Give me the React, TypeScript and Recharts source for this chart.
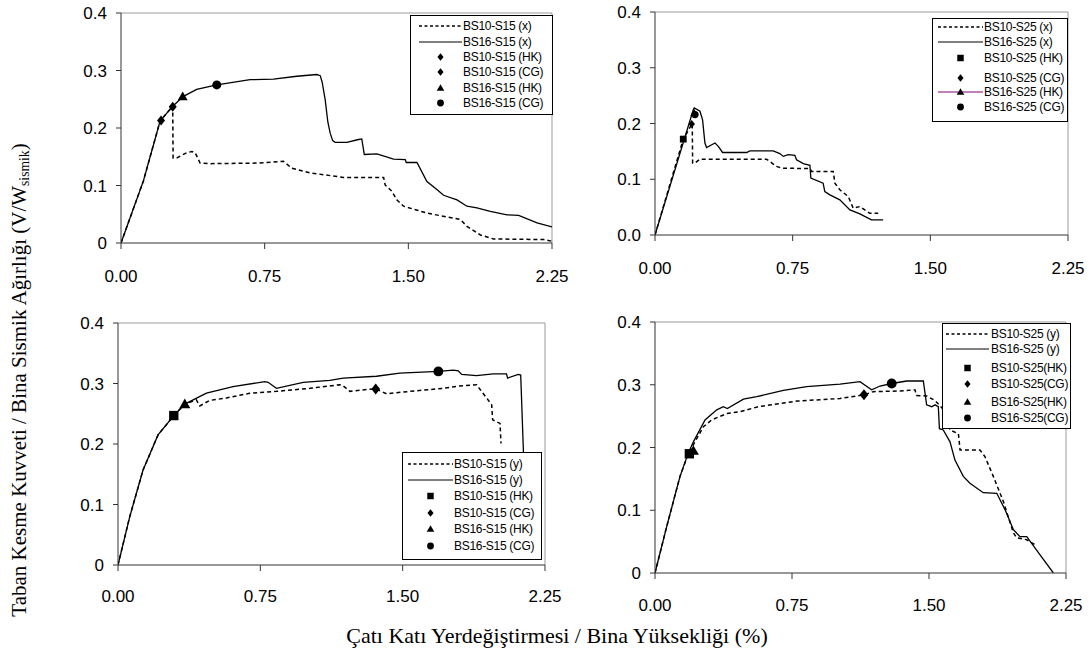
import React from 'react';
import { ComposedChart, Line, Scatter, XAxis, YAxis, ReferenceLine, Legend } from 'recharts';

type Pt = { x: number; y: number };
const P = (a: number[][]): Pt[] => a.map(([x, y]) => ({ x, y }));

const xTicks = [0, 0.75, 1.5, 2.25];
const yTicks = [0, 0.1, 0.2, 0.3, 0.4];

// ---- Panel 1: S15, x direction ----
const bs10S15x = P([[0,0],[0.117,0.108],[0.204,0.212],[0.27,0.238],[0.272,0.148],[0.291,0.148],[0.343,0.157],[0.369,0.159],[0.387,0.157],[0.413,0.139],[0.465,0.138],[0.709,0.139],[0.848,0.142],[0.892,0.13],[0.987,0.122],[1.162,0.114],[1.371,0.114],[1.379,0.101],[1.414,0.09],[1.44,0.075],[1.475,0.064],[1.597,0.052],[1.771,0.041],[1.806,0.029],[1.876,0.014],[1.945,0.007],[2.207,0.006],[2.25,0.003]]);
const bs16S15x = P([[0,0],[0.117,0.108],[0.204,0.212],[0.27,0.238],[0.326,0.255],[0.395,0.267],[0.5,0.275],[0.674,0.284],[0.796,0.285],[0.918,0.29],[1.022,0.293],[1.04,0.291],[1.05,0.28],[1.066,0.249],[1.08,0.21],[1.092,0.191],[1.105,0.178],[1.118,0.175],[1.179,0.175],[1.24,0.18],[1.257,0.181],[1.27,0.154],[1.336,0.155],[1.423,0.146],[1.484,0.145],[1.489,0.14],[1.545,0.14],[1.597,0.107],[1.649,0.093],[1.684,0.083],[1.754,0.075],[1.806,0.064],[1.858,0.061],[1.928,0.055],[2.015,0.049],[2.076,0.048],[2.172,0.035],[2.25,0.028]]);
const bs10S15xHK = P([[0.209,0.213]]);
const bs10S15xCG = P([[0.27,0.237]]);
const bs16S15xHK = P([[0.322,0.255]]);
const bs16S15xCG = P([[0.5,0.275]]);
const legend1 = ['BS10-S15 (x)', 'BS16-S15 (x)', 'BS10-S15 (HK)', 'BS10-S15 (CG)', 'BS16-S15 (HK)', 'BS16-S15 (CG)'];

// ---- Panel 2: S25, x direction ----
const bs10S25x = P([[0,0],[0.154,0.172],[0.203,0.2],[0.205,0.129],[0.218,0.129],[0.245,0.136],[0.608,0.136],[0.662,0.123],[0.69,0.12],[0.844,0.119],[0.853,0.114],[0.971,0.114],[0.98,0.093],[1.007,0.081],[1.053,0.069],[1.08,0.048],[1.116,0.051],[1.17,0.039],[1.216,0.039]]);
const bs16S25x = P([[0,0],[0.209,0.225],[0.214,0.228],[0.245,0.222],[0.259,0.207],[0.272,0.165],[0.281,0.157],[0.327,0.165],[0.345,0.159],[0.368,0.148],[0.499,0.148],[0.517,0.151],[0.644,0.151],[0.68,0.146],[0.699,0.141],[0.726,0.144],[0.762,0.143],[0.771,0.135],[0.808,0.128],[0.844,0.125],[0.849,0.102],[0.916,0.093],[0.925,0.078],[0.953,0.072],[1.007,0.063],[1.062,0.045],[1.116,0.038],[1.179,0.027],[1.243,0.027]]);
const bs10S25xHK = P([[0.154,0.172]]);
const bs10S25xCG = P([[0.2,0.199]]);
const bs16S25xHK = P([[0.214,0.219]]);
const bs16S25xCG = P([[0.218,0.216]]);
const legend2 = ['BS10-S25 (x)', 'BS16-S25 (x)', 'BS10-S25 (HK)', 'BS10-S25 (CG)', 'BS16-S25 (HK)', 'BS16-S25 (CG)'];

// ---- Panel 3: S15, y direction ----
const bs10S15y = P([[0,0],[0.062,0.08],[0.132,0.157],[0.211,0.215],[0.294,0.247],[0.352,0.266],[0.413,0.273],[0.431,0.263],[0.483,0.272],[0.571,0.276],[0.694,0.284],[0.835,0.287],[1.011,0.292],[1.169,0.298],[1.187,0.296],[1.222,0.287],[1.31,0.29],[1.358,0.291],[1.415,0.283],[1.538,0.287],[1.714,0.292],[1.802,0.296],[1.889,0.298],[1.969,0.265],[1.974,0.24],[2.013,0.234],[2.018,0.201]]);
const bs16S15y = P([[0,0],[0.062,0.08],[0.132,0.157],[0.211,0.215],[0.294,0.247],[0.352,0.266],[0.466,0.284],[0.606,0.295],[0.773,0.303],[0.791,0.302],[0.835,0.292],[0.976,0.302],[1.116,0.305],[1.187,0.309],[1.362,0.312],[1.485,0.317],[1.688,0.32],[1.767,0.322],[1.793,0.321],[1.811,0.315],[1.889,0.313],[1.977,0.316],[2.047,0.316],[2.053,0.309],[2.109,0.315],[2.122,0.314],[2.136,0.19],[2.145,0.05]]);
const bs10S15yHK = P([[0.294,0.247]]);
const bs10S15yCG = P([[1.358,0.291]]);
const bs16S15yHK = P([[0.352,0.266]]);
const bs16S15yCG = P([[1.688,0.32]]);
const legend3 = ['BS10-S15 (y)', 'BS16-S15 (y)', 'BS10-S15 (HK)', 'BS10-S15 (CG)', 'BS16-S15 (HK)', 'BS16-S15 (CG)'];

// ---- Panel 4: S25, y direction ----
const bs10S25y = P([[0,0],[0.064,0.074],[0.137,0.154],[0.182,0.19],[0.265,0.233],[0.31,0.244],[0.392,0.254],[0.465,0.257],[0.566,0.265],[0.776,0.274],[1.013,0.278],[1.144,0.284],[1.195,0.289],[1.341,0.29],[1.423,0.292],[1.432,0.283],[1.487,0.282],[1.533,0.275],[1.58,0.26],[1.615,0.228],[1.661,0.222],[1.67,0.196],[1.779,0.196],[1.807,0.185],[1.852,0.154],[1.907,0.114],[1.962,0.064],[1.98,0.056],[2.035,0.053],[2.081,0.045]]);
const bs16S25y = P([[0,0],[0.064,0.074],[0.137,0.154],[0.182,0.191],[0.21,0.209],[0.274,0.244],[0.338,0.26],[0.374,0.265],[0.396,0.262],[0.484,0.277],[0.557,0.281],[0.703,0.291],[0.83,0.297],[1.013,0.301],[1.122,0.305],[1.186,0.292],[1.232,0.298],[1.296,0.302],[1.378,0.306],[1.469,0.306],[1.487,0.268],[1.515,0.265],[1.533,0.268],[1.551,0.265],[1.557,0.23],[1.578,0.228],[1.615,0.209],[1.642,0.18],[1.688,0.154],[1.724,0.143],[1.797,0.128],[1.871,0.127],[1.916,0.101],[1.962,0.069],[1.998,0.058],[2.035,0.058],[2.108,0.029],[2.181,0]]);
const bs10S25yHK = P([[0.188,0.19]]);
const bs10S25yCG = P([[1.144,0.284]]);
const bs16S25yHK = P([[0.21,0.195]]);
const bs16S25yCG = P([[1.296,0.302]]);
const legend4 = ['BS10-S25 (y)', 'BS16-S25 (y)', 'BS10-S25(HK)', 'BS10-S25(CG)', 'BS16-S25(HK)', 'BS16-S25(CG)'];

const yTitle = 'Taban Kesme Kuvveti / Bina Sismik Ağırlığı (V/W';
const yTitleSub = 'sismik';
const xTitle = 'Çatı Katı Yerdeğiştirmesi / Bina Yüksekliği (%)';

const SANS = "'Liberation Sans', Arial, sans-serif";
const SERIF = "'Liberation Serif', 'Times New Roman', serif";

type MkType = 'diamond' | 'square' | 'triangle' | 'circle';

function Mk({ cx, cy, type, s }: { cx: number; cy: number; type: MkType; s: number }) {
  if (cx == null || cy == null) return null;
  switch (type) {
    case 'diamond':
      return <polygon points={`${cx},${cy - s} ${cx + s * 0.8},${cy} ${cx},${cy + s} ${cx - s * 0.8},${cy}`} fill="#000" />;
    case 'square':
      return <rect x={cx - s * 0.85} y={cy - s * 0.85} width={s * 1.7} height={s * 1.7} fill="#000" />;
    case 'triangle':
      return <polygon points={`${cx},${cy - s} ${cx + s},${cy + s * 0.75} ${cx - s},${cy + s * 0.75}`} fill="#000" />;
    default:
      return <circle cx={cx} cy={cy} r={s * 0.9} fill="#000" />;
  }
}

type Kind = 'dash' | 'solid' | MkType | 'purpleTriangle';

interface LegendSpec {
  labels: string[];
  kinds: Kind[];
  rows: number[];
  left: number;
  top: number;
  width: number;
  height: number;
  sx0: number;
  sx1: number;
  tx: number;
}

function LegendBox({ spec }: { spec: LegendSpec }) {
  const { labels, kinds, rows, width, height, sx0, sx1, tx } = spec;
  const mid = (sx0 + sx1) / 2;
  return (
    <div style={{ position: 'relative', width, height, border: '1px solid #000', background: '#fff', boxSizing: 'border-box', fontFamily: SANS, fontSize: 12, color: '#000' }}>
      {labels.map((lab, i) => {
        const k = kinds[i];
        return (
          <React.Fragment key={i}>
            <svg style={{ position: 'absolute', left: 0, top: rows[i] - 7, overflow: 'visible' }} width={tx} height={14}>
              {k === 'dash' && <line x1={sx0} x2={sx1} y1={7} y2={7} stroke="#000" strokeWidth={1.4} strokeDasharray="3 2.5" />}
              {k === 'solid' && <line x1={sx0} x2={sx1} y1={7} y2={7} stroke="#000" strokeWidth={1} />}
              {k === 'purpleTriangle' && <line x1={sx0} x2={sx1} y1={7} y2={7} stroke="#800080" strokeWidth={1} />}
              {(k === 'diamond' || k === 'square' || k === 'triangle' || k === 'circle') && <Mk cx={mid} cy={7} type={k} s={3.8} />}
              {k === 'purpleTriangle' && <Mk cx={mid} cy={7} type="triangle" s={3.8} />}
            </svg>
            <span style={{ position: 'absolute', left: tx, top: rows[i] - 8, lineHeight: '16px', whiteSpace: 'nowrap', letterSpacing: '-0.3px' }}>{lab}</span>
          </React.Fragment>
        );
      })}
    </div>
  );
}

interface MarkerSet { data: Pt[]; type: MkType }

interface PanelProps {
  left: number; top: number; right: number; bottom: number;
  dashed: Pt[]; solid: Pt[]; markers: MarkerSet[]; ms: number;
  legend: LegendSpec; zeroLabel: string; xTickMargin: number;
}

function Panel({ left, top, right, bottom, dashed, solid, markers, ms, legend, zeroLabel, xTickMargin }: PanelProps) {
  const yw = 70, mt = 10, mr = 24, xh = 45;
  const pw = right - left, ph = bottom - top;
  const ox = left - yw, oy = top - mt;
  return (
    <div style={{ position: 'absolute', left: ox, top: oy }}>
      <ComposedChart width={pw + yw + mr} height={ph + mt + xh} margin={{ top: mt, right: mr, left: 0, bottom: 0 }}>
        <XAxis type="number" dataKey="x" domain={[0, 2.25]} ticks={xTicks} allowDataOverflow interval={0}
          tickFormatter={(v: number) => v.toFixed(2)} height={xh} tickSize={6} tickMargin={xTickMargin}
          stroke="#333" tick={{ fill: '#000', fontSize: 17, fontFamily: SANS }} />
        <YAxis type="number" dataKey="y" domain={[0, 0.4]} ticks={yTicks} allowDataOverflow interval={0}
          tickFormatter={(v: number) => (v === 0 ? zeroLabel : v.toFixed(1))} width={yw} tickSize={5} tickMargin={9}
          stroke="#333" tick={{ fill: '#000', fontSize: 17, fontFamily: SANS }} />
        <ReferenceLine y={0.4} stroke="#9a9a9a" strokeWidth={1} />
        <ReferenceLine x={2.25} stroke="#9a9a9a" strokeWidth={1} />
        <Line data={solid} dataKey="y" type="linear" stroke="#000" strokeWidth={1.3} dot={false} activeDot={false} isAnimationActive={false} />
        <Line data={dashed} dataKey="y" type="linear" stroke="#000" strokeWidth={1.5} strokeDasharray="4 3" dot={false} activeDot={false} isAnimationActive={false} />
        {markers.map((m, i) => (
          <Scatter key={i} data={m.data} dataKey="y" isAnimationActive={false}
            shape={(p: any) => <Mk cx={p.cx} cy={p.cy} type={m.type} s={ms} />} />
        ))}
        <Legend layout="horizontal" verticalAlign="middle" align="center"
          wrapperStyle={{ left: legend.left - ox, top: legend.top - oy, width: legend.width, height: legend.height }}
          content={() => <LegendBox spec={legend} />} />
      </ComposedChart>
    </div>
  );
}

const kindsA: Kind[] = ['dash', 'solid', 'diamond', 'diamond', 'triangle', 'circle'];
const kindsB: Kind[] = ['dash', 'solid', 'square', 'diamond', 'purpleTriangle', 'circle'];
const kindsC: Kind[] = ['dash', 'solid', 'square', 'diamond', 'triangle', 'circle'];

export default function App() {
  return (
    <div style={{ position: 'absolute', left: 0, top: 0, width: 1089, height: 662, background: '#fff', overflow: 'hidden' }}>
      <Panel left={121} top={13} right={552} bottom={243} dashed={bs10S15x} solid={bs16S15x} ms={5} zeroLabel="0" xTickMargin={21}
        markers={[{ data: bs10S15xHK, type: 'diamond' }, { data: bs10S15xCG, type: 'diamond' }, { data: bs16S15xHK, type: 'triangle' }, { data: bs16S15xCG, type: 'circle' }]}
        legend={{ labels: legend1, kinds: kindsA, rows: [10, 26, 41, 56, 72, 87], left: 410, top: 15, width: 143, height: 100, sx0: 8, sx1: 51, tx: 52 }} />
      <Panel left={655} top={12} right={1068} bottom={235} dashed={bs10S25x} solid={bs16S25x} ms={4} zeroLabel="0.0" xTickMargin={21}
        markers={[{ data: bs10S25xHK, type: 'square' }, { data: bs10S25xCG, type: 'diamond' }, { data: bs16S25xHK, type: 'triangle' }, { data: bs16S25xCG, type: 'circle' }]}
        legend={{ labels: legend2, kinds: kindsB, rows: [8, 23, 39, 59, 73, 88], left: 932, top: 18, width: 136, height: 104, sx0: 5, sx1: 50, tx: 51 }} />
      <Panel left={118} top={323} right={545} bottom={565} dashed={bs10S15y} solid={bs16S15y} ms={5.5} zeroLabel="0" xTickMargin={19}
        markers={[{ data: bs10S15yHK, type: 'square' }, { data: bs10S15yCG, type: 'diamond' }, { data: bs16S15yHK, type: 'triangle' }, { data: bs16S15yCG, type: 'circle' }]}
        legend={{ labels: legend3, kinds: kindsC, rows: [11, 27, 43, 60, 76, 93], left: 402, top: 452, width: 140, height: 108, sx0: 5, sx1: 50, tx: 51 }} />
      <Panel left={655} top={322} right={1066} bottom={573} dashed={bs10S25y} solid={bs16S25y} ms={5.5} zeroLabel="0" xTickMargin={20}
        markers={[{ data: bs10S25yHK, type: 'square' }, { data: bs10S25yCG, type: 'diamond' }, { data: bs16S25yHK, type: 'triangle' }, { data: bs16S25yCG, type: 'circle' }]}
        legend={{ labels: legend4, kinds: kindsC, rows: [10, 25, 44, 60, 78, 94], left: 942, top: 323, width: 129, height: 106, sx0: 3, sx1: 46, tx: 48 }} />
      <div style={{ position: 'absolute', left: 22, top: 380, transform: 'translate(-50%, -50%) rotate(-90deg)', whiteSpace: 'nowrap', fontFamily: SERIF, fontSize: 21, color: '#000', lineHeight: '24px' }}>
        {yTitle}<sub style={{ fontSize: '0.65em', verticalAlign: '-0.25em' }}>{yTitleSub}</sub>)
      </div>
      <div style={{ position: 'absolute', left: 557, top: 636, transform: 'translate(-50%, -50%)', whiteSpace: 'nowrap', fontFamily: SERIF, fontSize: 22, color: '#000', lineHeight: '24px' }}>
        {xTitle}
      </div>
    </div>
  );
}
